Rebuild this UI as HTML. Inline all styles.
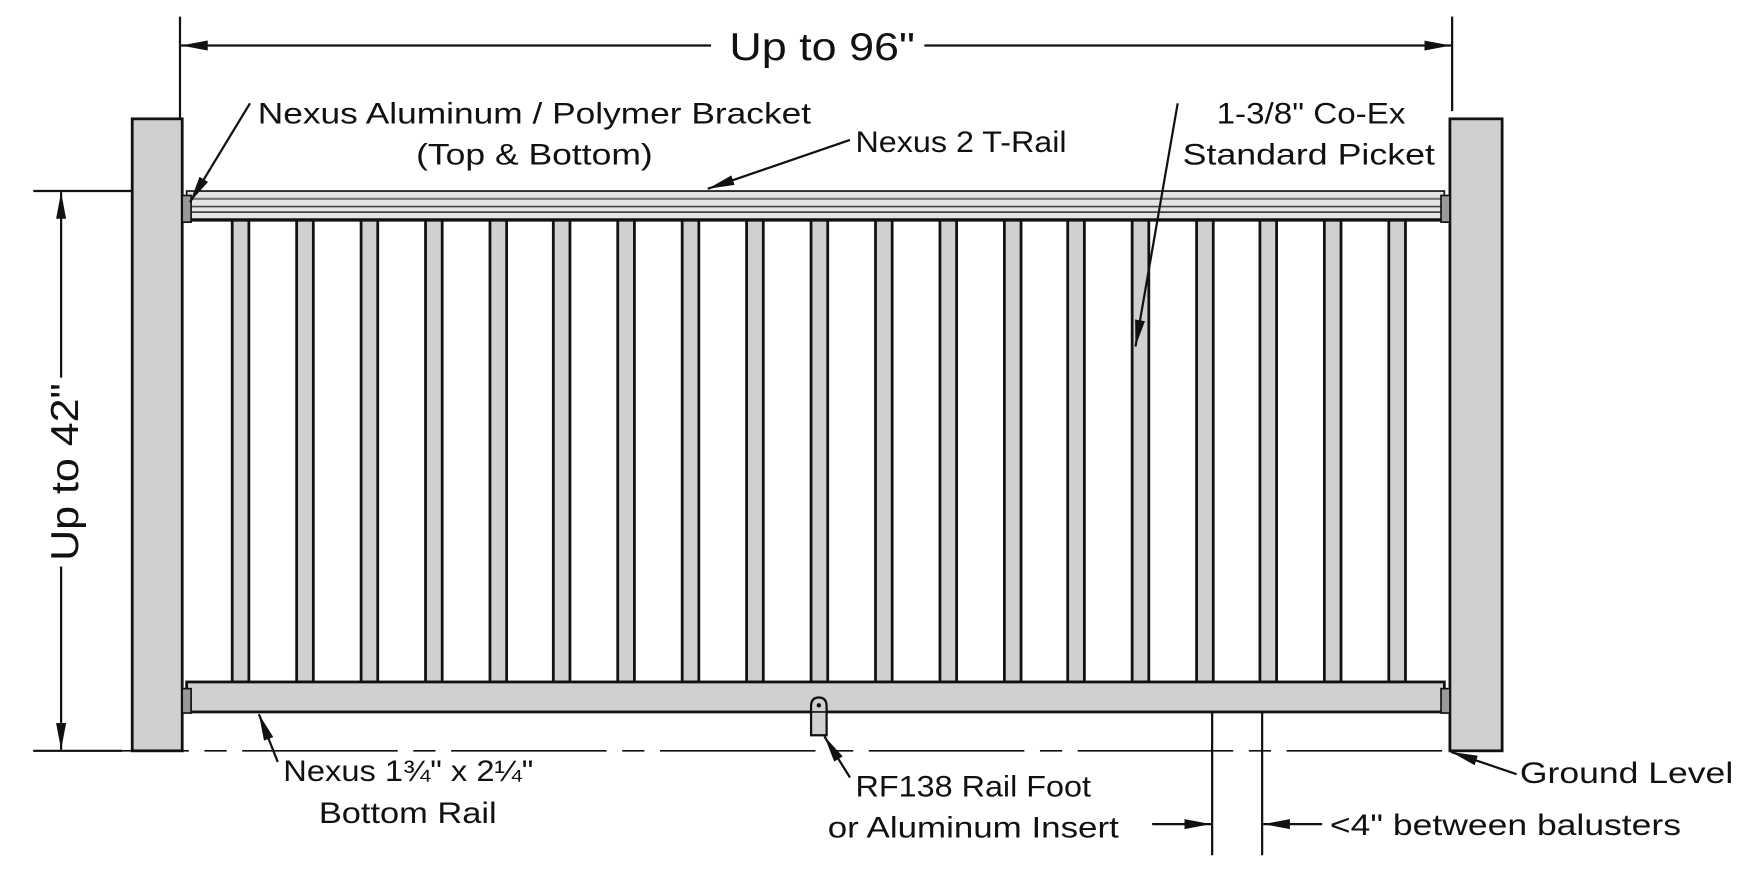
<!DOCTYPE html>
<html><head><meta charset="utf-8"><style>
html,body{margin:0;padding:0;background:#fff;}
svg{display:block;}
text{font-family:"Liberation Sans",sans-serif;font-size:27px;fill:#111;}
</style></head><body>
<svg width="1741" height="873" viewBox="0 0 1567 786" preserveAspectRatio="none" xmlns="http://www.w3.org/2000/svg">
<defs>
<marker id="a" viewBox="0 0 24 9" refX="24" refY="4.5" markerWidth="24" markerHeight="9" markerUnits="userSpaceOnUse" orient="auto">
<path d="M0,0 L24,4.5 L0,9 Z" fill="#111"/></marker>
</defs>
<g stroke="#111" stroke-width="2" fill="none">
<line x1="162" y1="15" x2="162" y2="124"/>
<line x1="1307" y1="15" x2="1307" y2="100"/>
<line x1="640" y1="41" x2="163" y2="41" marker-end="url(#a)"/>
<line x1="832" y1="41" x2="1306" y2="41" marker-end="url(#a)"/>
<line x1="30" y1="172" x2="160" y2="172"/>
<line x1="30" y1="676" x2="110" y2="676"/>
<line x1="55" y1="340" x2="55" y2="173" marker-end="url(#a)"/>
<line x1="55" y1="510" x2="55" y2="675" marker-end="url(#a)"/>
</g>
<text x="740" y="54" text-anchor="middle" style="font-size:35px" textLength="167" lengthAdjust="spacingAndGlyphs">Up to 96"</text>
<text transform="translate(70,425) rotate(-90)" text-anchor="middle" style="font-size:35px" textLength="160" lengthAdjust="spacingAndGlyphs">Up to 42"</text>
<line x1="30" y1="676" x2="1304" y2="676" stroke="#111" stroke-width="1.5" stroke-dasharray="140,14,20,14"/>
<rect x="119" y="107" width="45" height="569" fill="#d0d0d0" stroke="#111" stroke-width="2.5"/>
<rect x="1305" y="107" width="47" height="569" fill="#d0d0d0" stroke="#111" stroke-width="2.5"/>
<g fill="#d0d0d0" stroke="#111" stroke-width="2.5">
<rect x="209" y="198" width="15" height="416"/><rect x="267" y="198" width="15" height="416"/>
<rect x="325" y="198" width="15" height="416"/><rect x="383" y="198" width="15" height="416"/>
<rect x="441" y="198" width="15" height="416"/><rect x="498" y="198" width="15" height="416"/>
<rect x="556" y="198" width="15" height="416"/><rect x="614" y="198" width="15" height="416"/>
<rect x="672" y="198" width="15" height="416"/><rect x="730" y="198" width="15" height="416"/>
<rect x="788" y="198" width="15" height="416"/><rect x="846" y="198" width="15" height="416"/>
<rect x="904" y="198" width="15" height="416"/><rect x="961" y="198" width="15" height="416"/>
<rect x="1019" y="198" width="15" height="416"/><rect x="1077" y="198" width="15" height="416"/>
<rect x="1134" y="198" width="15" height="416"/><rect x="1192" y="198" width="15" height="416"/>
<rect x="1250" y="198" width="15" height="416"/>
</g>
<rect x="168" y="172" width="1132" height="26" fill="#e4e4e4" stroke="#111" stroke-width="1.5"/>
<line x1="168" y1="179" x2="1300" y2="179" stroke="#777" stroke-width="2"/>
<line x1="168" y1="186" x2="1300" y2="186" stroke="#444" stroke-width="1.5"/>
<line x1="168" y1="191" x2="1300" y2="191" stroke="#444" stroke-width="1.5"/>
<line x1="168" y1="198" x2="1300" y2="198" stroke="#111" stroke-width="3"/>
<rect x="164" y="176" width="8" height="24" fill="#999" stroke="#111" stroke-width="1.5"/>
<rect x="1297" y="176" width="8" height="24" fill="#999" stroke="#111" stroke-width="1.5"/>
<rect x="168" y="614" width="1132" height="27" fill="#d0d0d0" stroke="#111" stroke-width="2.5"/>
<rect x="164" y="620" width="8" height="22" fill="#999" stroke="#111" stroke-width="1.5"/>
<rect x="1297" y="620" width="8" height="22" fill="#999" stroke="#111" stroke-width="1.5"/>
<path d="M730,662 L730,636 Q730,628 737,628 Q744,628 744,636 L744,662 Z" fill="#d0d0d0" stroke="#111" stroke-width="2"/>
<line x1="730" y1="641" x2="744" y2="641" stroke="#111" stroke-width="1.5"/>
<circle cx="737" cy="635" r="2" fill="#111"/>
<g stroke="#111" stroke-width="2" fill="none">
<line x1="1091" y1="641" x2="1091" y2="770"/>
<line x1="1136" y1="641" x2="1136" y2="770"/>
<line x1="1037" y1="742" x2="1090" y2="742" marker-end="url(#a)"/>
<line x1="1190" y1="742" x2="1137" y2="742" marker-end="url(#a)"/>
<line x1="225" y1="93" x2="171" y2="182" marker-end="url(#a)"/>
<line x1="765" y1="126" x2="637" y2="170" marker-end="url(#a)"/>
<line x1="1060" y1="93" x2="1022" y2="312" marker-end="url(#a)"/>
<line x1="250" y1="686" x2="233" y2="643" marker-end="url(#a)"/>
<line x1="765" y1="700" x2="742" y2="663" marker-end="url(#a)"/>
<line x1="1365" y1="697" x2="1306" y2="677" marker-end="url(#a)"/>
</g>
<text x="232" y="111" textLength="498" lengthAdjust="spacingAndGlyphs">Nexus Aluminum / Polymer Bracket</text>
<text x="481" y="148" text-anchor="middle" textLength="213" lengthAdjust="spacingAndGlyphs">(Top &amp; Bottom)</text>
<text x="770" y="137" textLength="190" lengthAdjust="spacingAndGlyphs">Nexus 2 T-Rail</text>
<text x="1180" y="111" text-anchor="middle" textLength="170" lengthAdjust="spacingAndGlyphs">1-3/8" Co-Ex</text>
<text x="1178" y="148" text-anchor="middle" textLength="227" lengthAdjust="spacingAndGlyphs">Standard Picket</text>
<text x="255" y="703" textLength="225" lengthAdjust="spacingAndGlyphs">Nexus 1¾" x 2¼"</text>
<text x="367" y="741" text-anchor="middle" textLength="160" lengthAdjust="spacingAndGlyphs">Bottom Rail</text>
<text x="770" y="717" textLength="212" lengthAdjust="spacingAndGlyphs">RF138 Rail Foot</text>
<text x="876" y="754" text-anchor="middle" textLength="262" lengthAdjust="spacingAndGlyphs">or Aluminum Insert</text>
<text x="1368" y="705" textLength="192" lengthAdjust="spacingAndGlyphs">Ground Level</text>
<text x="1197" y="752" textLength="316" lengthAdjust="spacingAndGlyphs">&lt;4" between balusters</text>
</svg>
</body></html>
